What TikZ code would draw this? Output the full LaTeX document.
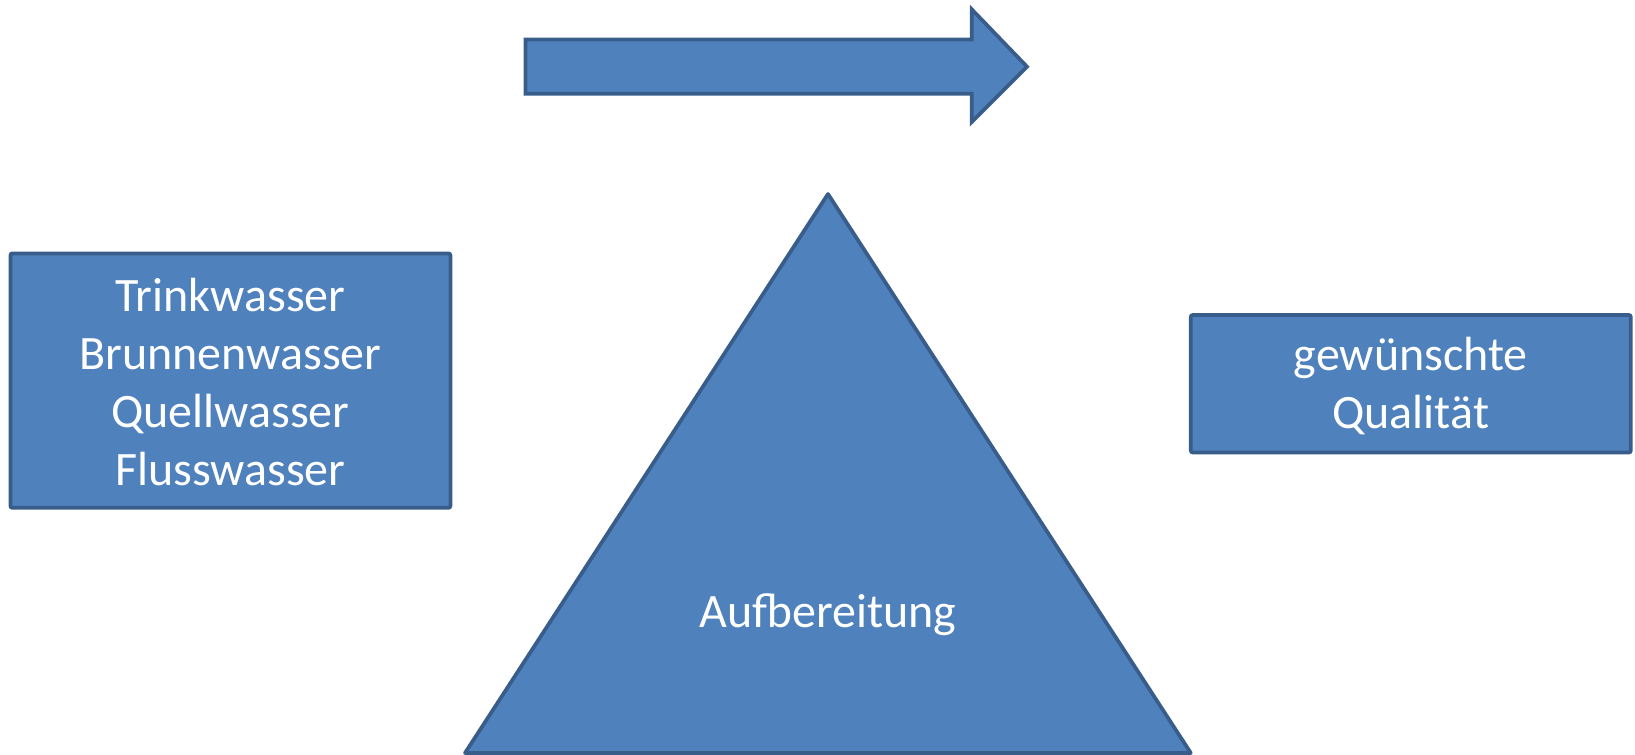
\documentclass[tikz,border=0pt]{standalone}
\usepackage{fontspec}
\setmainfont{Carlito}
\definecolor{boxfill}{RGB}{79,129,189}
\definecolor{boxline}{RGB}{56,93,138}
\tikzset{every picture/.style={line width=2.8pt}}
\tikzset{
  bluebox/.style={draw=boxline,fill=boxfill,fill opacity=1},
  boxtext/.style={text=white,align=center,font=\fontsize{36}{43.5}\selectfont}
}

\begin{document}
\begin{tikzpicture}[x=0.75pt,y=0.75pt,yscale=-1,xscale=1]
\path[use as bounding box] (0,0) rectangle (1635,755); %set diagram size 1635 x 755

%Right Arrow [id:arrow]
\draw  [bluebox] (525.5,39.6) -- (971.8,39.6) -- (971.8,9.4) -- (1027,66.7) -- (971.8,122) -- (971.8,93.8) -- (525.5,93.8) -- cycle ;
%Shape: Rectangle [id:sources]
\draw  [bluebox,rounded corners=1.5pt] (10.4,253.4) rectangle (450.4,507.8) ;
%Shape: Rectangle [id:quality]
\draw  [bluebox,rounded corners=1.5pt] (1190.8,315) rectangle (1630.8,452.5) ;
%Shape: Triangle [id:treatment]
\draw  [bluebox,line join=round] (828,194) -- (1190.8,753) -- (465,753) -- cycle ;

% Text Node
\draw (230.4,382) node (sourcestext) [boxtext] {Trinkwasser\\Brunnenwasser\\Quellwasser\\Flusswasser};
% Text Node
\draw (1410.8,386) node (qualitytext) [boxtext] {gewünschte\\Qualität};
% Text Node
\draw (828,615) node (treatmenttext) [boxtext] {Aufbereitung};

\end{tikzpicture}
\end{document}
